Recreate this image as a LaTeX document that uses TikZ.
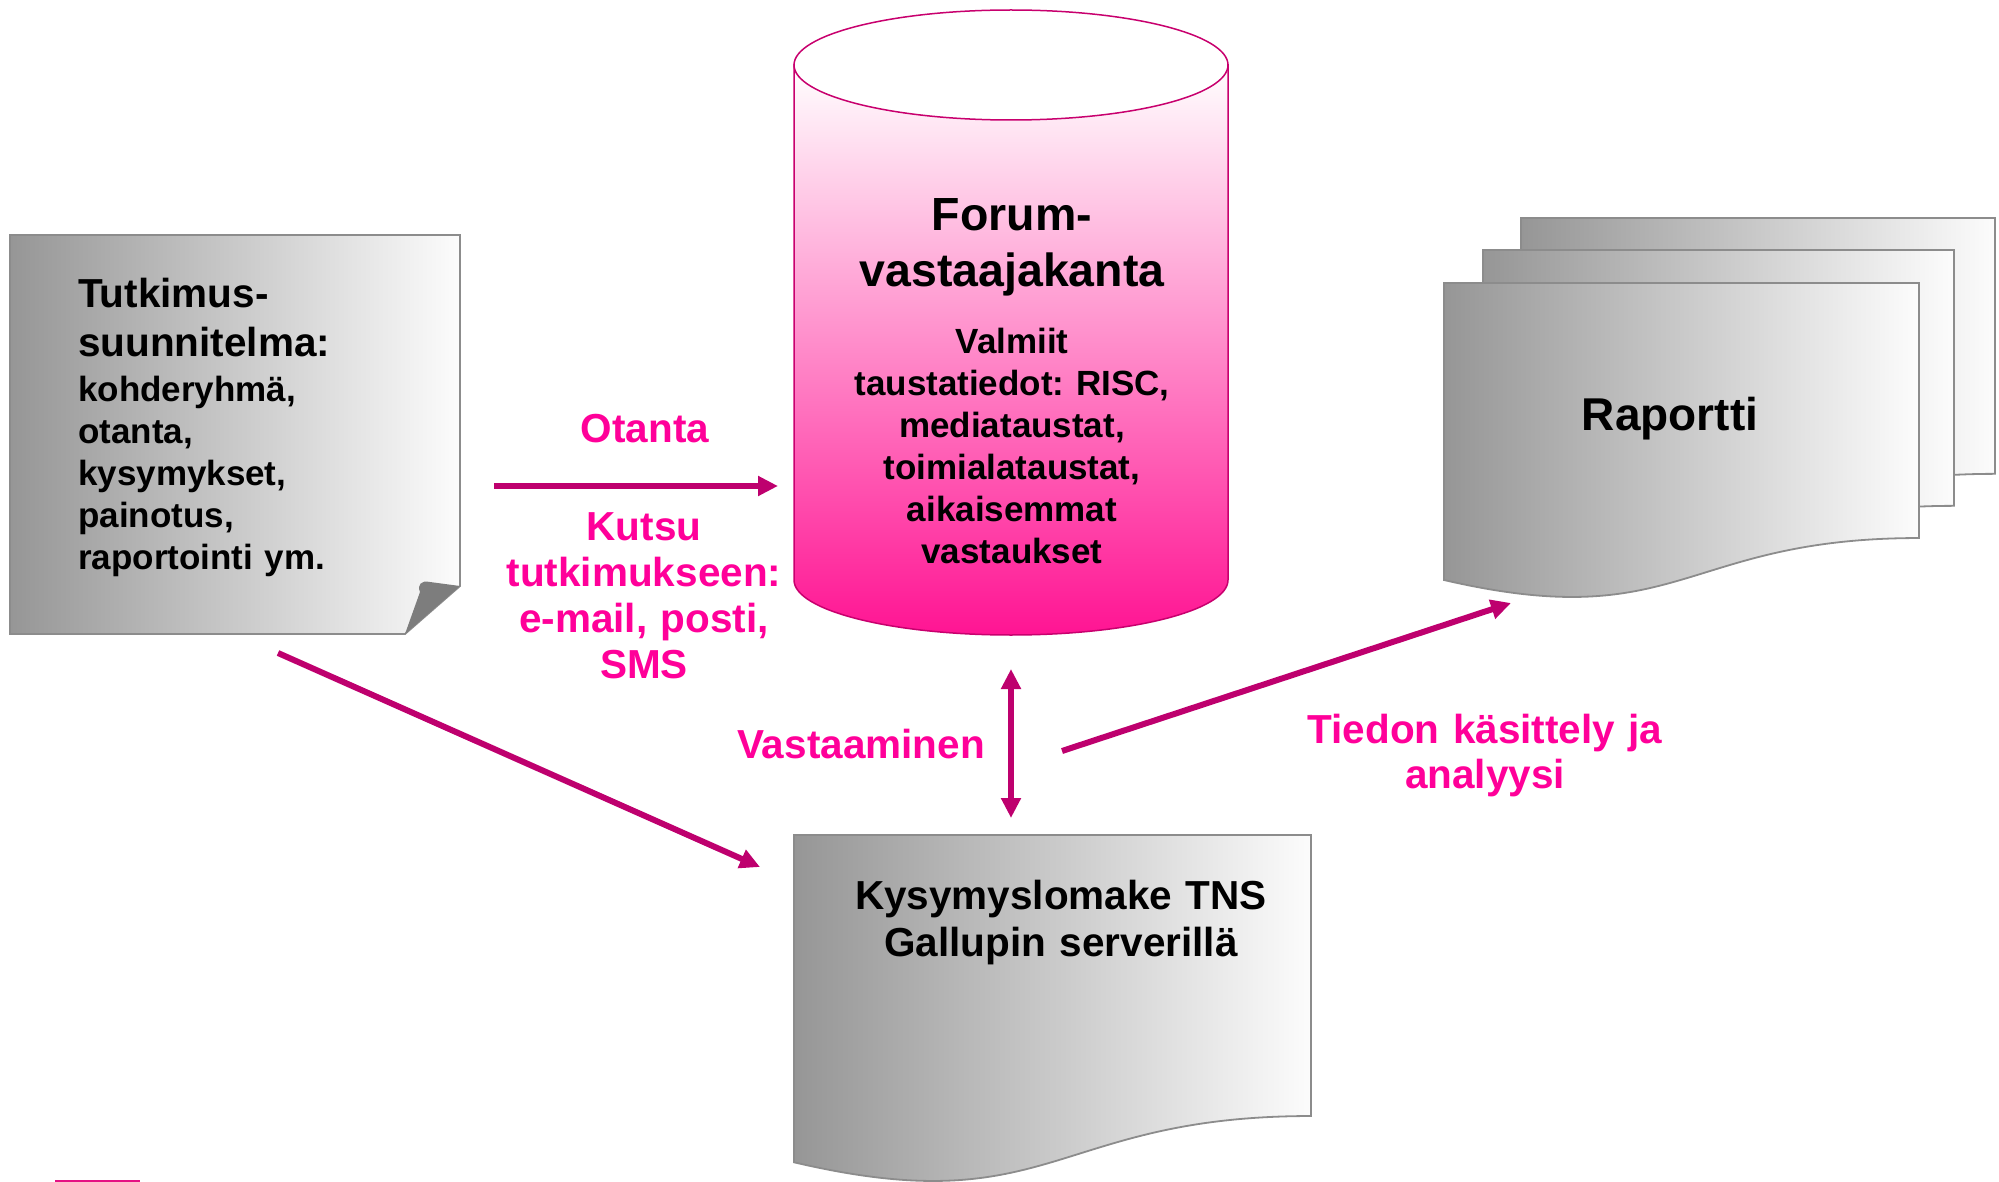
\documentclass[tikz,border=0pt]{standalone}
\usepackage{fontspec}
\setmainfont{Liberation Sans}
\frenchspacing
\usetikzlibrary{arrows.meta}
\definecolor{arrowc}{RGB}{190,0,110}
\definecolor{txtpink}{RGB}{255,0,153}
\definecolor{cylpink}{RGB}{255,20,147}
\definecolor{cyledge}{RGB}{200,0,110}
\definecolor{docgray}{RGB}{150,150,150}
\definecolor{docwhite}{RGB}{252,252,252}
\definecolor{docedge}{RGB}{140,140,140}
\definecolor{foldgray}{RGB}{125,125,125}
\newcommand{\docpath}[4]{(#1,#2) -- ({#1+#3},#2) -- ({#1+#3},{#2+0.802*#4}) .. controls ({#1+0.5*#3},{#2+0.802*#4}) and ({#1+0.5*#3},{#2+1.1075*#4}) .. (#1,{#2+0.934*#4}) -- cycle}
\tikzset{
  docsheet/.style={left color=docgray, right color=docwhite, draw=docedge, line width=1.8pt},
  conn/.style={draw=arrowc, line width=6pt, -{Triangle[length=20pt,width=19pt]}},
  dconn/.style={draw=arrowc, line width=6pt, {Triangle[length=20pt,width=19pt]}-{Triangle[length=20pt,width=19pt]}},
  lbl/.style={text=txtpink, inner sep=0pt, anchor=base, align=center, text width=460pt,
              font=\bfseries\fontsize{40.5}{46}\selectfont},
  blk/.style={text=black, inner sep=0pt, anchor=base, align=center, text width=460pt},
  blkl/.style={text=black, inner sep=0pt, anchor=base west, align=left, text width=380pt}
}
\begin{document}
\begin{tikzpicture}[x=1pt,y=-1pt]
\useasboundingbox (0,0) rectangle (1999,1182);
\clip (0,0) rectangle (1999,1182);

% left note with folded corner
\path[docsheet] (10,235) -- (460,235) -- (460,586) -- (405,634) -- (10,634) -- cycle;
\fill[foldgray] (460,586) -- (430,582) .. controls (421,580) and (417,585) .. (420,592) -- (405,634) -- cycle;

% cylinder
\path[top color=white, middle color=cylpink!35!white, bottom color=cylpink, draw=cyledge, line width=1.5pt]
  (794,65) -- (794,580) arc[start angle=180, end angle=0, x radius=217, y radius=55] -- (1228,65) -- cycle;
\draw[cyledge, fill=white, line width=1.5pt] (1011,65) ellipse [x radius=217, y radius=55];

% report stack
\path[docsheet] \docpath{1521}{218}{474}{319};
\path[docsheet] \docpath{1483}{250}{471}{319};
\path[docsheet] \docpath{1444}{283}{475}{318};

% questionnaire document
\path[docsheet] \docpath{794}{835}{517}{350.4};

% texts
\node[blkl, font=\bfseries\fontsize{40.5}{48}\selectfont] (noteT) at (78,308) {Tutkimus-\\suunnitelma:};
\node[blkl, font=\bfseries\fontsize{35}{42}\selectfont] (noteL) at (78,401) {kohderyhmä,\\otanta,\\kysymykset,\\painotus,\\raportointi ym.};
\node[blk, font=\bfseries\fontsize{46.5}{56}\selectfont] (cylT) at (1012,231) {Forum-\\vastaajakanta};
\node[blk, font=\bfseries\fontsize{35}{42}\selectfont] (cylL) at (1012,353) {Valmiit\\taustatiedot: RISC,\\mediataustat,\\toimialataustat,\\aikaisemmat\\vastaukset};
\node[blk, font=\bfseries\fontsize{46}{55}\selectfont] (rap) at (1670,430) {Raportti};
\node[blk, font=\bfseries\fontsize{40.5}{47}\selectfont] (kys) at (1061,909) {Kysymyslomake TNS\\Gallupin serverillä};

\node[lbl] (otanta) at (645,442) {Otanta};
\node[lbl] (kutsu) at (644,540) {Kutsu\\tutkimukseen:\\e-mail, posti,\\SMS};
\node[lbl] (vast) at (861,758) {Vastaaminen};
\node[lbl, font=\bfseries\fontsize{40.5}{45}\selectfont] (tiedon) at (1485,743) {Tiedon käsittely ja\\analyysi};

% connectors
\coordinate (a1s) at (494,486);
\coordinate (a1e) at (778,486);
\coordinate (a2s) at (278,653);
\coordinate (a2e) at (760,867);
\coordinate (a3s) at (1011,669);
\coordinate (a3e) at (1011,818);
\coordinate (a4s) at (1062,751);
\coordinate (a4e) at (1511,603);
\draw[conn] (a1s) -- (a1e);
\draw[conn] (a2s) -- (a2e);
\draw[dconn] (a3s) -- (a3e);
\draw[conn] (a4s) -- (a4e);

% small mark at bottom left
\coordinate (m1) at (55,1181);
\coordinate (m2) at (140,1181);
\draw[draw=cylpink!90!black, line width=2pt] (m1) -- (m2);
\end{tikzpicture}
\end{document}
